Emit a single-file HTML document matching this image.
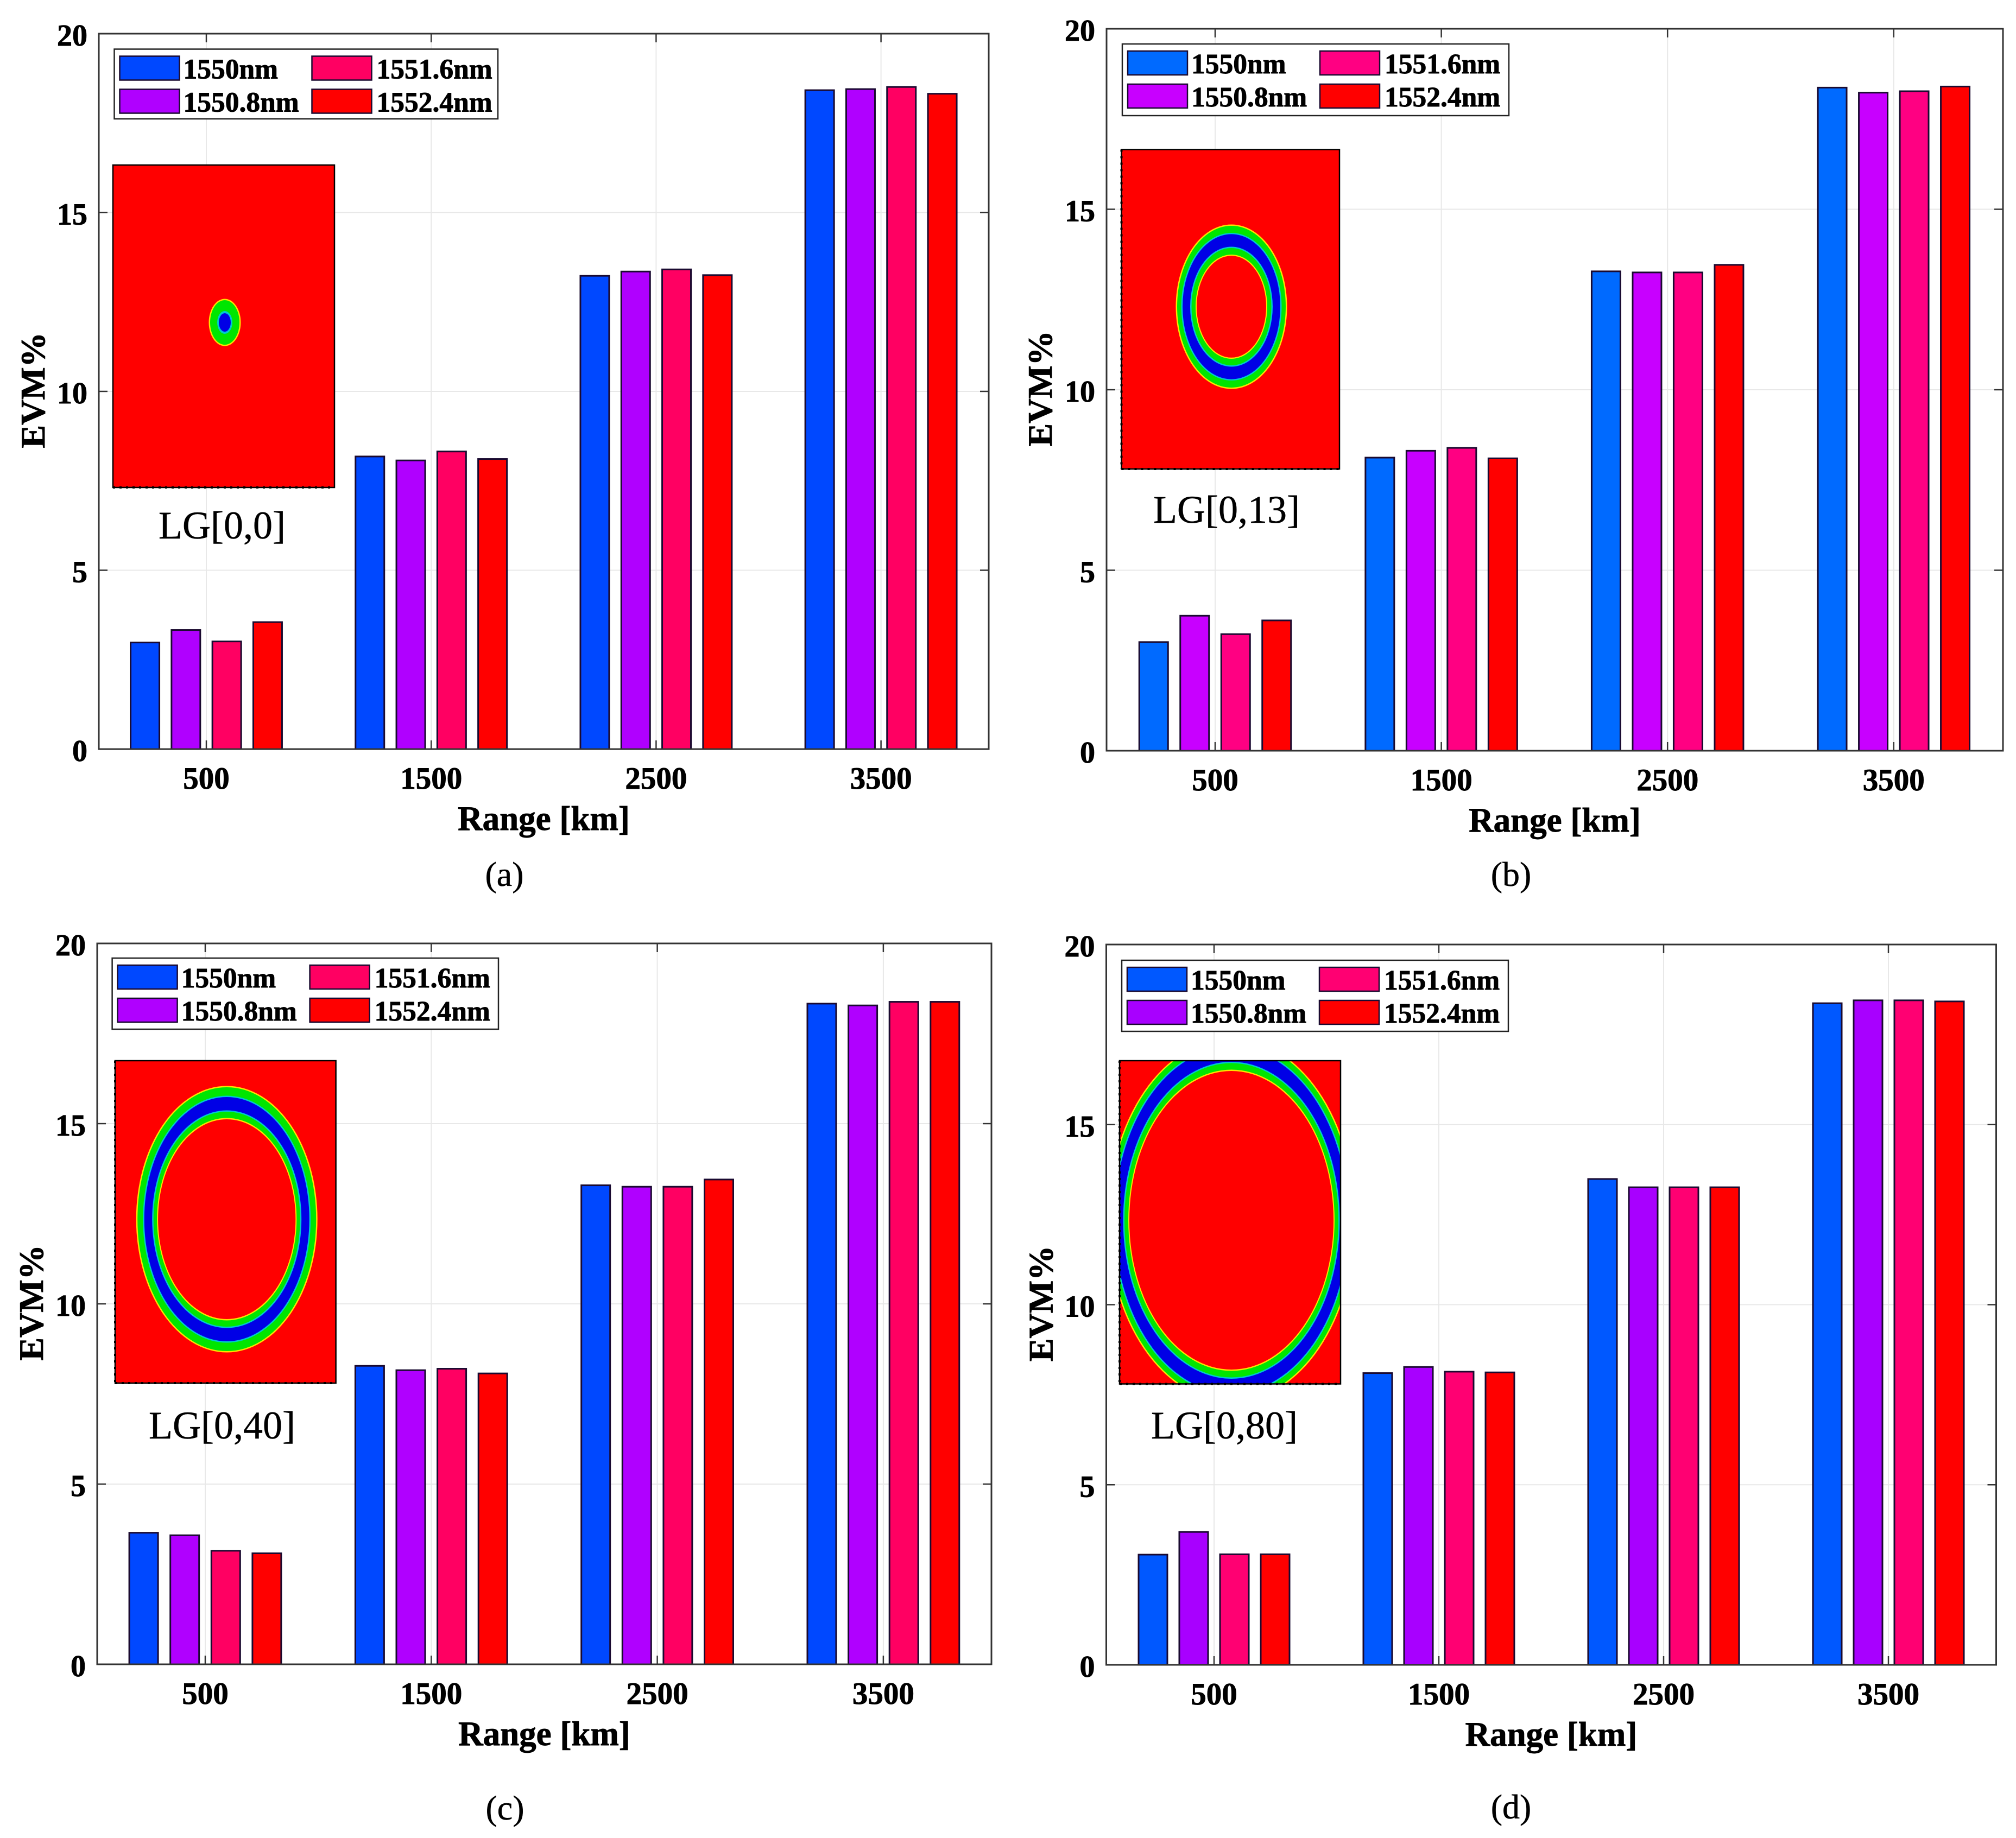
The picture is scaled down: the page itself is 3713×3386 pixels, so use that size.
<!DOCTYPE html>
<html lang="en">
<head>
<meta charset="utf-8">
<title>EVM versus range for LG modes</title>
<style>
  html, body { margin: 0; padding: 0; background: #fff; }
  #figure { display: block; width: 3713px; height: 3386px; background: #fff; }
  text { fill: #000; }
  .serif-bold { font-family: "Liberation Serif", serif; font-weight: bold; stroke: #000; stroke-width: 0.9px; }
  .serif { font-family: "Liberation Serif", serif; stroke: #000; stroke-width: 0.5px; }
</style>
</head>
<body>
<svg id="figure" xmlns="http://www.w3.org/2000/svg" width="3713" height="3386" viewBox="0 0 3713 3386"></svg>
<script>
// ---- chart data ----
const categories = [500, 1500, 2500, 3500];
const seriesNames = ['1550nm', '1550.8nm', '1551.6nm', '1552.4nm'];
const yTickLabels = [0, 5, 10, 15, 20];
const yMax = 20;

const panelA1550 = [2.98, 8.18, 13.23, 18.42];
const panelA15508 = [3.33, 8.07, 13.35, 18.45];
const panelA15516 = [3.01, 8.32, 13.41, 18.51];
const panelA15524 = [3.55, 8.11, 13.25, 18.32];

const panelB1550 = [3.01, 8.12, 13.28, 18.37];
const panelB15508 = [3.74, 8.31, 13.25, 18.23];
const panelB15516 = [3.23, 8.39, 13.25, 18.27];
const panelB15524 = [3.61, 8.10, 13.46, 18.40];

const panelC1550 = [3.65, 8.28, 13.29, 18.33];
const panelC15508 = [3.58, 8.16, 13.25, 18.28];
const panelC15516 = [3.15, 8.20, 13.25, 18.38];
const panelC15524 = [3.08, 8.07, 13.45, 18.38];

const panelD1550 = [3.06, 8.10, 13.49, 18.37];
const panelD15508 = [3.69, 8.27, 13.26, 18.45];
const panelD15516 = [3.07, 8.14, 13.26, 18.45];
const panelD15524 = [3.07, 8.12, 13.26, 18.42];

// ---- layout (not data) ----
const panels = [
  { id: 'a', caption: '(a)', mode: 'LG[0,0]',
    series: [panelA1550, panelA15508, panelA15516, panelA15524],
    colors: ['#0048ff', '#b000ff', '#ff0062', '#ff0000'],
    left: 182, right: 1821, top: 62, bottom: 1380, firstTick: 380, tickStep: 414.2, pitch: 75.3,
    yTitleX: 82,
    legend: { x: 210.5, y: 90.5, w: 706.5, h: 128.5 },
    inset: { x: 208, y: 304, w: 408, h: 594, cx: 206, cy: 290, leftDots: false },
    rings: [['#ffe000', 29.5, 43.5], ['#00e600', 27, 41], ['#00c8d0', 14, 21], ['#0000e6', 11, 17]],
    modeX: 409, modeY: 992, captionX: 929, captionY: 1632 },
  { id: 'b', caption: '(b)', mode: 'LG[0,13]',
    series: [panelB1550, panelB15508, panelB15516, panelB15524],
    colors: ['#006aff', '#c800ff', '#ff0082', '#ff0000'],
    left: 2038, right: 3689, top: 53, bottom: 1383, firstTick: 2238, tickStep: 416.6, pitch: 75.5,
    yTitleX: 1937,
    legend: { x: 2067, y: 81, w: 712, h: 132 },
    inset: { x: 2065.5, y: 275.5, w: 401.5, h: 588.5, cx: 202.5, cy: 289.5, leftDots: true },
    rings: [['#ffe000', 102.5, 151.5], ['#00e600', 100, 149], ['#00c8d0', 92.5, 136], ['#0000e6', 90, 133.6], ['#00c8d0', 76, 110.5], ['#00e600', 73.5, 108], ['#ffe000', 66, 96], ['#ff0000', 64, 93.8]],
    modeX: 2259, modeY: 963, captionX: 2783, captionY: 1632 },
  { id: 'c', caption: '(c)', mode: 'LG[0,40]',
    series: [panelC1550, panelC15508, panelC15516, panelC15524],
    colors: ['#0048ff', '#b000ff', '#ff0062', '#ff0000'],
    left: 179, right: 1826, top: 1738, bottom: 3066, firstTick: 378, tickStep: 416.3, pitch: 75.6,
    yTitleX: 79,
    legend: { x: 206.6, y: 1765, w: 711.4, h: 131 },
    inset: { x: 212, y: 1954, w: 406.6, h: 594, cx: 205.7, cy: 292, leftDots: true },
    rings: [['#ffe000', 167, 245.5], ['#00e600', 164.5, 243], ['#00c8d0', 154.5, 227.5], ['#0000e6', 152, 225], ['#00c8d0', 137.5, 200.5], ['#00e600', 135, 198], ['#ffe000', 128.6, 186.5], ['#ff0000', 126.6, 184]],
    modeX: 409, modeY: 2650, captionX: 930, captionY: 3352 },
  { id: 'd', caption: '(d)', mode: 'LG[0,80]',
    series: [panelD1550, panelD15508, panelD15516, panelD15524],
    colors: ['#0058ff', '#a800ff', '#ff0072', '#ff0000'],
    left: 2037.5, right: 3676.5, top: 1740, bottom: 3067, firstTick: 2236, tickStep: 414, pitch: 75,
    yTitleX: 1938.5,
    legend: { x: 2066, y: 1769, w: 712, h: 131 },
    inset: { x: 2062, y: 1954, w: 407, h: 595.5, cx: 206, cy: 294, leftDots: true },
    rings: [['#ffe000', 228, 335], ['#00e600', 225.5, 332.5], ['#00c8d0', 218, 321], ['#0000e6', 215.5, 318.5], ['#00c8d0', 199.5, 292], ['#00e600', 197, 289.5], ['#ffe000', 190, 277.5], ['#ff0000', 188, 275]],
    modeX: 2255, modeY: 2650, captionX: 2783, captionY: 3350 }
];

const NS = 'http://www.w3.org/2000/svg';
const figure = document.getElementById('figure');

function make(tag, attrs, parent, content) {
  const el = document.createElementNS(NS, tag);
  for (const key in attrs) {
    el.setAttribute(key, attrs[key]);
  }
  if (content !== undefined) {
    el.textContent = content;
  }
  parent.appendChild(el);
  return el;
}

panels.forEach(function (p) {
  const xScale = function (i) { return p.firstTick + p.tickStep * i; };
  const yScale = function (v) { return p.bottom - (v / yMax) * (p.bottom - p.top); };
  const tickLen = 16;
  const axisColor = '#333';

  const group = make('g', {}, figure);
  
  

  // grid
  yTickLabels.forEach(function (t) {
    if (t === 0 || t === yMax) return;
    const line = make('line', { x1: p.left, x2: p.right, y1: yScale(t), y2: yScale(t), stroke: '#e8e8e8', 'stroke-width': 2 }, group);
    
    
  });
  categories.forEach(function (c, i) {
    const line = make('line', { x1: xScale(i), x2: xScale(i), y1: p.top, y2: p.bottom, stroke: '#e8e8e8', 'stroke-width': 2 }, group);
    
    
  });

  // ticks
  yTickLabels.forEach(function (t) {
    if (t === 0 || t === yMax) return;
    const leftTick = make('line', { x1: p.left, x2: p.left + tickLen, y1: yScale(t), y2: yScale(t), stroke: axisColor, 'stroke-width': 2.5 }, group);
    
    
    const rightTick = make('line', { x1: p.right - tickLen, x2: p.right, y1: yScale(t), y2: yScale(t), stroke: axisColor, 'stroke-width': 2.5 }, group);
    
    
  });
  categories.forEach(function (c, i) {
    const topTick = make('line', { x1: xScale(i), x2: xScale(i), y1: p.top, y2: p.top + tickLen, stroke: axisColor, 'stroke-width': 2.5 }, group);
    
    
    const bottomTick = make('line', { x1: xScale(i), x2: xScale(i), y1: p.bottom - tickLen, y2: p.bottom, stroke: axisColor, 'stroke-width': 2.5 }, group);
    
    
  });

  // bars
  const barWidth = 53;
  p.series.forEach(function (values, s) {
    values.forEach(function (v, i) {
      const cx = xScale(i) + (s - 1.5) * p.pitch;
      const bar = make('rect', { x: cx - barWidth / 2, y: yScale(v), width: barWidth, height: yScale(0) - yScale(v), fill: p.colors[s], stroke: '#1a0a30', 'stroke-width': 3 }, group);
      
      
    });
  });

  // axes box
  const frame = make('rect', { x: p.left, y: p.top, width: p.right - p.left, height: p.bottom - p.top, fill: 'none', stroke: axisColor, 'stroke-width': 3 }, group);
  
  

  // tick labels
  yTickLabels.forEach(function (t) {
    const label = make('text', { x: p.left - 21, y: yScale(t) + 22, 'text-anchor': 'end', 'font-size': 56, class: 'serif-bold' }, group, String(t));
    
    
  });
  categories.forEach(function (c, i) {
    const label = make('text', { x: xScale(i), y: p.bottom + 73, 'text-anchor': 'middle', 'font-size': 57, class: 'serif-bold' }, group, String(c));
    
    
  });

  // axis titles
  const xTitle = make('text', { x: (p.left + p.right) / 2, y: p.bottom + 149, 'text-anchor': 'middle', 'font-size': 63, class: 'serif-bold' }, group, 'Range [km]');
  
  
  const yMid = (p.top + p.bottom) / 2 - 2;
  const yTitle = make('text', { x: p.yTitleX, y: yMid, 'text-anchor': 'middle', 'font-size': 64, class: 'serif-bold', transform: 'rotate(-90 ' + p.yTitleX + ' ' + yMid + ')' }, group, 'EVM%');
  
  

  // legend
  const lg = p.legend;
  const legendGroup = make('g', {}, group);
  
  
  const legendBox = make('rect', { x: lg.x, y: lg.y, width: lg.w, height: lg.h, fill: '#fff', stroke: '#222', 'stroke-width': 2.5 }, legendGroup);
  
  
  seriesNames.forEach(function (name, s) {
    const col = s < 2 ? 0 : 1;
    const row = s % 2;
    const swatchX = lg.x + (col === 0 ? 10 : 364);
    const textX = lg.x + (col === 0 ? 127 : 483);
    const swatchY = lg.y + (row === 0 ? 13 : 74);
    const baseline = lg.y + (row === 0 ? 54 : 115);
    const swatch = make('rect', { x: swatchX, y: swatchY, width: 110, height: 44, fill: p.colors[s], stroke: '#1a0a30', 'stroke-width': 2.5 }, legendGroup);
    
    
    const entry = make('text', { x: textX, y: baseline, 'font-size': 51.5, class: 'serif-bold' }, legendGroup, name);
    
    
  });

  // inset mode image
  const ins = p.inset;
  const insetSvg = make('svg', { x: ins.x, y: ins.y, width: ins.w, height: ins.h, viewBox: '0 0 ' + ins.w + ' ' + ins.h }, group);
  
  
  const insetBg = make('rect', { x: 0, y: 0, width: ins.w, height: ins.h, fill: '#ff0000' }, insetSvg);
  
  
  p.rings.forEach(function (r) {
    const ring = make('ellipse', { cx: ins.cx, cy: ins.cy, rx: r[1], ry: r[2], fill: r[0] }, insetSvg);
    
    
  });
  const insetFrame = make('rect', { x: ins.x, y: ins.y, width: ins.w, height: ins.h, fill: 'none', stroke: '#000', 'stroke-width': 2.5 }, group);
  
  
  const bottomDots = make('line', { x1: ins.x, x2: ins.x + ins.w, y1: ins.y + ins.h, y2: ins.y + ins.h, stroke: '#000', 'stroke-width': 4, 'stroke-dasharray': '4 8' }, group);
  
  
  if (ins.leftDots) {
    const leftDots = make('line', { x1: ins.x, x2: ins.x, y1: ins.y, y2: ins.y + ins.h, stroke: '#000', 'stroke-width': 4, 'stroke-dasharray': '4 8' }, group);
    
    
  }

  // mode label and caption
  const modeLabel = make('text', { x: p.modeX, y: p.modeY, 'text-anchor': 'middle', 'font-size': 72, class: 'serif' }, group, p.mode);
  
  
  const caption = make('text', { x: p.captionX, y: p.captionY, 'text-anchor': 'middle', 'font-size': 64, class: 'serif' }, group, p.caption);
  
  
});
</script>
</body>
</html>
